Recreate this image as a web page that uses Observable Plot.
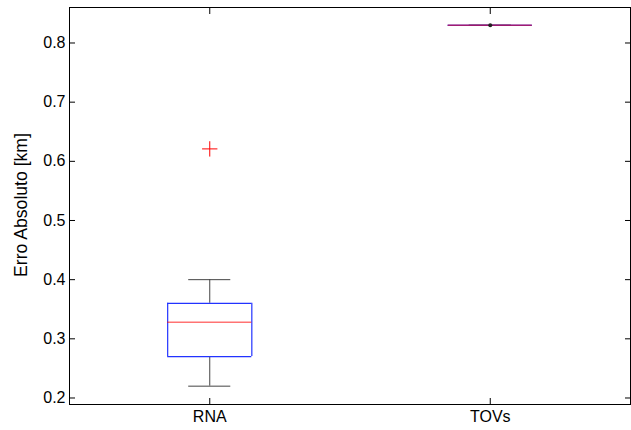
<!DOCTYPE html>
<html>
<head>
<meta charset="utf-8">
<script src="https://cdn.jsdelivr.net/npm/d3@7"></script>
<script src="https://cdn.jsdelivr.net/npm/@observablehq/plot@0.6"></script>
<style>
  html, body { margin: 0; padding: 0; background: #fff; }
  #chart svg { display: block; }
</style>
</head>
<body>
<div id="chart"></div>
<script>
// Data
const categories = ["RNA", "TOVs"];
const lowerWhisker = [0.22, 0.83];
const q1 = [0.27, 0.83];
const median = [0.328, 0.83];
const q3 = [0.36, 0.83];
const upperWhisker = [0.40, 0.83];
const outlierCategory = ["RNA"];
const outlierValue = [0.621];
const yTicks = [0.2, 0.3, 0.4, 0.5, 0.6, 0.7, 0.8];

const boxes = categories.map((c, i) => ({
  cat: c, pos: i + 1,
  lo: lowerWhisker[i], q1: q1[i], med: median[i], q3: q3[i], hi: upperWhisker[i]
}));
const outliers = outlierCategory.map((c, i) => ({
  cat: c, pos: categories.indexOf(c) + 1, value: outlierValue[i]
}));

const boxHalf = 0.15;
const capHalf = 0.075;
const font = "'Liberation Sans', Arial, sans-serif";
const boxColor = "#2233ff";
const whiskerColor = "#444";

const chart = Plot.plot({
  width: 631,
  height: 430,
  marginLeft: 69,
  marginRight: 1,
  marginTop: 7,
  marginBottom: 26,
  style: { fontFamily: font, fontSize: "16px", color: "#000", background: "#fff" },
  x: { domain: [0.5, 2.5] },
  y: { domain: [0.189, 0.86] },
  marks: [
    Plot.frame({ stroke: "#000", strokeWidth: 1 }),
    // Axes with inward ticks
    Plot.axisY({ anchor: "left", ticks: yTicks, tickSize: -6, tickPadding: 10, tickFormat: d3.format(".1f"), label: null, fontSize: 16 }),
    Plot.axisY({ anchor: "right", ticks: yTicks, tickSize: -6, tickFormat: () => "", label: null }),
    Plot.axisX({ anchor: "bottom", ticks: [1, 2], tickSize: -6, tickPadding: 12, tickFormat: d => categories[d - 1], label: null, fontSize: 16 }),
    Plot.axisX({ anchor: "top", ticks: [1, 2], tickSize: -6, tickFormat: () => "", label: null }),
    // Whiskers
    Plot.ruleX(boxes, { x: "pos", y1: "q3", y2: "hi", stroke: whiskerColor, strokeWidth: 1 }),
    Plot.ruleX(boxes, { x: "pos", y1: "lo", y2: "q1", stroke: whiskerColor, strokeWidth: 1 }),
    // Caps
    Plot.ruleY(boxes, { y: "hi", x1: d => d.pos - capHalf, x2: d => d.pos + capHalf, stroke: whiskerColor, strokeWidth: 1 }),
    Plot.ruleY(boxes, { y: "lo", x1: d => d.pos - capHalf, x2: d => d.pos + capHalf, stroke: whiskerColor, strokeWidth: 1 }),
    // Box outline (drawn as rules so a collapsed box still shows)
    Plot.ruleY(boxes, { y: "q1", x1: d => d.pos - boxHalf, x2: d => d.pos + boxHalf, stroke: boxColor, strokeWidth: 1.2 }),
    Plot.ruleY(boxes, { y: "q3", x1: d => d.pos - boxHalf, x2: d => d.pos + boxHalf, stroke: boxColor, strokeWidth: 1.2 }),
    Plot.ruleX(boxes, { x: d => d.pos - boxHalf, y1: "q1", y2: "q3", stroke: boxColor, strokeWidth: 1.2 }),
    Plot.ruleX(boxes, { x: d => d.pos + boxHalf, y1: "q1", y2: "q3", stroke: boxColor, strokeWidth: 1.2 }),
    // Median
    Plot.ruleY(boxes, { y: "med", x1: d => d.pos - boxHalf, x2: d => d.pos + boxHalf, stroke: "#ff0000", strokeOpacity: 0.55, strokeWidth: 1.4 }),
    // Collapsed whisker point (zero-length whisker)
    Plot.dot(boxes.filter(d => d.hi === d.q3 && d.lo === d.q1), { x: "pos", y: "med", r: 2, fill: "#222", stroke: "none" }),
    // Outliers
    Plot.dot(outliers, { x: "pos", y: "value", symbol: "plus", r: 5, stroke: "#ff0000", strokeWidth: 1 })
  ]
});

const wrap = document.getElementById("chart");
wrap.appendChild(chart);

// Y axis title
const svg = d3.select(chart);
svg.append("text")
  .attr("transform", "translate(22,205) rotate(-90)")
  .attr("text-anchor", "middle")
  .attr("dominant-baseline", "middle")
  .attr("font-family", font)
  .attr("font-size", "17.6px")
  .attr("fill", "#000")
  .text("Erro Absoluto [km]");
</script>
</body>
</html>
